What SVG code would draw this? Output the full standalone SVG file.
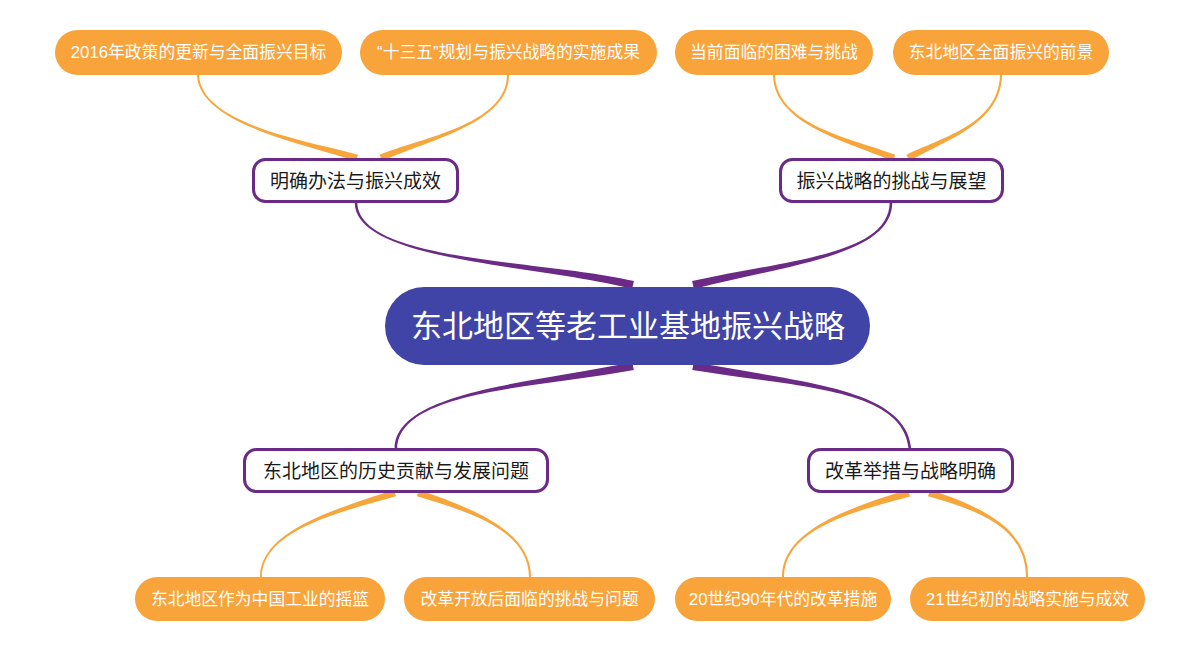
<svg xmlns="http://www.w3.org/2000/svg" width="1200" height="652" viewBox="0 0 1200 652">
<style>
.bg{fill:#ffffff}
.main rect{fill:#4044a6}
.main text{fill:#ffffff;font-size:31px}
.sub rect{fill:#ffffff;stroke:#6b2a86;stroke-width:3}
.sub text{fill:#1a1a1a;font-size:19px}
.leaf rect{fill:#f9a33b}
.leaf text{fill:#ffffff;font-size:16.8px}
text{font-family:"Liberation Sans","Noto Sans CJK SC",sans-serif;text-anchor:middle;dominant-baseline:central}
.cp{fill:#6b2a86}
.co{fill:#f7a63c}
</style>
<rect class="bg" x="0" y="0" width="1200" height="652"/>
<g id="connectors">
<path class="cp" d="M357.3 202 C357.6 262 540.6 259.6 634 281.1 L632 288.9 C539.4 264.4 354.4 262 354.7 202 Z"/>
<path class="cp" d="M892.3 202 C892.6 255 790.6 264.4 693.9 288.9 L692.1 281.1 C789.4 259.6 889.4 255 889.7 202 Z"/>
<path class="cp" d="M633.8 369.9 C540.5 387.5 397.6 390 397.3 449 L394.7 449 C394.4 390 539.5 382.5 632.2 362.1 Z"/>
<path class="cp" d="M693.7 362.1 C800.4 382.5 906.6 387.9 911.3 449 L908.7 449 C903.4 388.1 799.6 387.5 692.3 369.9 Z"/>
<path class="co" d="M199 75 C201.3 124.9 310.6 141.1 358.1 154.7 L355.9 161.3 C309.4 144.9 198.7 125.1 197 75 Z"/>
<path class="co" d="M509 75 C509.3 125 420.8 141.8 382.5 161.2 L379.5 154.8 C419.2 138.2 506.7 125 507 75 Z"/>
<path class="co" d="M775 75 C776.3 125 850.8 138.1 895.3 154.8 L892.7 161.2 C849.2 141.9 773.7 125 773 75 Z"/>
<path class="co" d="M1002 75 C1001.3 125 941 141.7 909.7 161.1 L906.3 154.9 C939 138.3 998.7 125 1000 75 Z"/>
<path class="co" d="M396 496.3 C340.6 511.9 262.3 530 262 577 L260 577 C259.7 530 339.4 508.1 394 489.7 Z"/>
<path class="co" d="M419.1 489.7 C470.6 508.1 531.3 530 531 577 L529 577 C528.7 530 469.4 511.9 416.9 496.3 Z"/>
<path class="co" d="M910 496.4 C850.6 511.9 784.3 530 784 577 L782 577 C781.7 530 849.4 508.1 908 489.6 Z"/>
<path class="co" d="M930 489.7 C985.6 508.1 1028.3 530 1028 577 L1026 577 C1025.7 530 984.4 511.9 928 496.3 Z"/>
</g>
<g id="root" class="main">
<rect x="385" y="287" width="485" height="78" rx="39"/>
<text x="628" y="326">东北地区等老工业基地振兴战略</text>
</g>
<g id="sub1" class="sub">
<rect x="253.5" y="159.5" width="204" height="42" rx="12"/>
<text x="355.5" y="181">明确办法与振兴成效</text>
</g>
<g id="sub2" class="sub">
<rect x="780.5" y="159.5" width="222" height="42" rx="12"/>
<text x="891.5" y="181">振兴战略的挑战与展望</text>
</g>
<g id="sub3" class="sub">
<rect x="244.5" y="449.5" width="303" height="42" rx="12"/>
<text x="396" y="471">东北地区的历史贡献与发展问题</text>
</g>
<g id="sub4" class="sub">
<rect x="808.5" y="449.5" width="204" height="42" rx="12"/>
<text x="910.5" y="471">改革举措与战略明确</text>
</g>
<g id="leaf1" class="leaf">
<rect x="55" y="30" width="287" height="45" rx="22.5"/>
<text x="198.5" y="52.5">2016年政策的更新与全面振兴目标</text>
</g>
<g id="leaf2" class="leaf">
<rect x="360" y="30" width="297" height="45" rx="22.5"/>
<text x="508.5" y="52.5">“十三五”规划与振兴战略的实施成果</text>
</g>
<g id="leaf3" class="leaf">
<rect x="675" y="30" width="198" height="45" rx="22.5"/>
<text x="774" y="52.5">当前面临的困难与挑战</text>
</g>
<g id="leaf4" class="leaf">
<rect x="893" y="30" width="216" height="45" rx="22.5"/>
<text x="1001" y="52.5">东北地区全面振兴的前景</text>
</g>
<g id="leaf5" class="leaf">
<rect x="135" y="577" width="250" height="44" rx="22"/>
<text x="260" y="599">东北地区作为中国工业的摇篮</text>
</g>
<g id="leaf6" class="leaf">
<rect x="404" y="577" width="251" height="44" rx="22"/>
<text x="529.5" y="599">改革开放后面临的挑战与问题</text>
</g>
<g id="leaf7" class="leaf">
<rect x="675" y="577" width="216" height="44" rx="22"/>
<text x="783" y="599">20世纪90年代的改革措施</text>
</g>
<g id="leaf8" class="leaf">
<rect x="910" y="577" width="235" height="44" rx="22"/>
<text x="1027.5" y="599">21世纪初的战略实施与成效</text>
</g>
</svg>
